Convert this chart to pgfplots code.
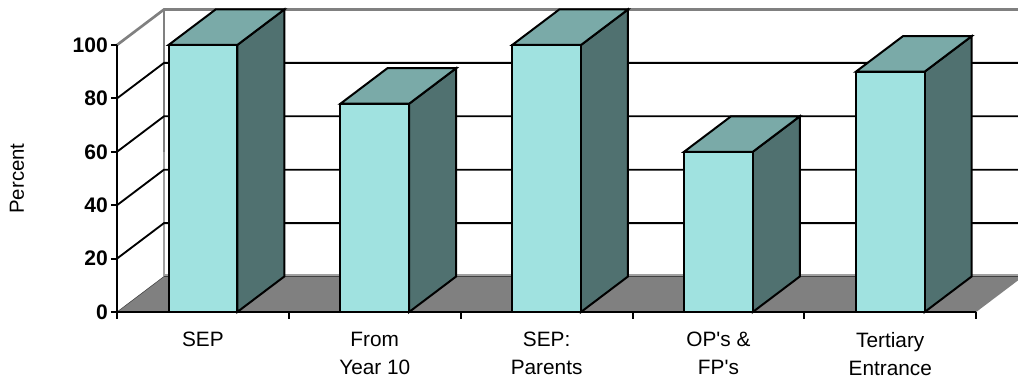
\documentclass[border=0pt]{standalone}
\usepackage{fontspec}
\setmainfont[Ligatures=TeXOff]{Liberation Sans}
\usepackage{pgfplots}
\pgfplotsset{compat=1.18}
\definecolor{barfront}{RGB}{160,226,224}
\definecolor{bartop}{RGB}{122,170,168}
\definecolor{barside}{RGB}{80,113,112}
\definecolor{wallgray}{RGB}{128,128,128}
\definecolor{walledge}{RGB}{160,160,160}
\tikzset{
  side/.style={draw=black,line width=1.5pt,fill=barside,line join=miter},
  topf/.style={draw=black,line width=1.5pt,fill=bartop,line join=miter},
  grd/.style={draw=black,line width=1.4pt},
  wall/.style={draw=wallgray,line width=2pt},
}
\begin{document}
\begin{tikzpicture}
\useasboundingbox (-87.75pt,-51.75pt) rectangle (675.75pt,234pt);
\begin{axis}[
  at={(0pt,0pt)},anchor=origin,
  scale only axis,width=644.4pt,height=200.25pt,
  xmin=0,xmax=5,ymin=0,ymax=100,
  clip=false,axis on top=true,
  axis x line*=bottom,axis y line*=left,
  axis line style={line width=1.5pt,black},
  tick align=outside,
  xtick={0.5,1.5,2.5,3.5,4.5},
  minor xtick={0,1,2,3,4,5},
  xticklabels={SEP,{From\\Year 10},{SEP:\\Parents},{OP's \&\\FP's},{Tertiary\\Entrance}},
  major x tick style={draw=none},
  minor tick length=5pt,
  minor x tick style={line width=1.5pt,black},
  ytick={0,20,40,60,80,100},
  major tick length=4.5pt,
  y tick style={line width=1.5pt,black},
  xticklabel style={align=center,font=\fontsize{15.6}{21}\selectfont,yshift=-7pt},
  yticklabel style={font=\fontsize{15.8}{17}\selectfont\bfseries,xshift=1.2pt},
  /pgf/number format/assume math mode=true,
  ylabel={Percent},
  ylabel style={at={(axis description cs:-0.1164,0.5)},anchor=center,
    font=\fontsize{15.3}{17}\selectfont},
]
% floor
\addplot[fill=wallgray,draw=none] coordinates {(0,0) (5,0) (5.2433,11.83) (5.2433,13.3) (0.2736,13.3)} -- cycle;
\addplot[draw=walledge,line width=1.8pt] coordinates {(0.2736,13.9) (5.2433,13.9)};
\addplot[draw=black!75,line width=0.4pt] coordinates {(0,0) (0.2736,13.3) (5.2433,13.3)};
% walls
\addplot[draw=walledge,line width=2pt] coordinates {(0.2736,13.3) (0.2736,60)};
\addplot[wall] coordinates {(0,100) (0.2736,113.3) (5.2433,113.3)};
\addplot[wall] coordinates {(0.2736,113.3) (0.2736,60)};
% gridlines on the side wall and back wall
\addplot[grd] coordinates {(0,20) (0.2736,33.3) (5.2433,33.3)};
\addplot[grd] coordinates {(0,40) (0.2736,53.3) (5.2433,53.3)};
\addplot[grd] coordinates {(0,60) (0.2736,73.3) (5.2433,73.3)};
\addplot[grd] coordinates {(0,80) (0.2736,93.3) (5.2433,93.3)};
% column sides
\addplot[side] coordinates {(0.7,0) (0.7,100) (0.9736,113.3) (0.9736,13.3)} -- cycle;
\addplot[side] coordinates {(1.7,0) (1.7,78) (1.9736,91.3) (1.9736,13.3)} -- cycle;
\addplot[side] coordinates {(2.7,0) (2.7,100) (2.9736,113.3) (2.9736,13.3)} -- cycle;
\addplot[side] coordinates {(3.7,0) (3.7,60) (3.9736,73.3) (3.9736,13.3)} -- cycle;
\addplot[side] coordinates {(4.7,0) (4.7,90) (4.9736,103.3) (4.9736,13.3)} -- cycle;
% column tops
\addplot[topf] coordinates {(0.3,100) (0.7,100) (0.9736,113.3) (0.5736,113.3)} -- cycle;
\addplot[topf] coordinates {(1.3,78) (1.7,78) (1.9736,91.3) (1.5736,91.3)} -- cycle;
\addplot[topf] coordinates {(2.3,100) (2.7,100) (2.9736,113.3) (2.5736,113.3)} -- cycle;
\addplot[topf] coordinates {(3.3,60) (3.7,60) (3.9736,73.3) (3.5736,73.3)} -- cycle;
\addplot[topf] coordinates {(4.3,90) (4.7,90) (4.9736,103.3) (4.5736,103.3)} -- cycle;
% column fronts
\addplot[ybar,bar width=0.4,bar shift=0pt,fill=barfront,draw=black,line width=1.5pt]
  coordinates {(0.5,100) (1.5,78) (2.5,100) (3.5,60) (4.5,90)};
\end{axis}
\end{tikzpicture}
\end{document}
